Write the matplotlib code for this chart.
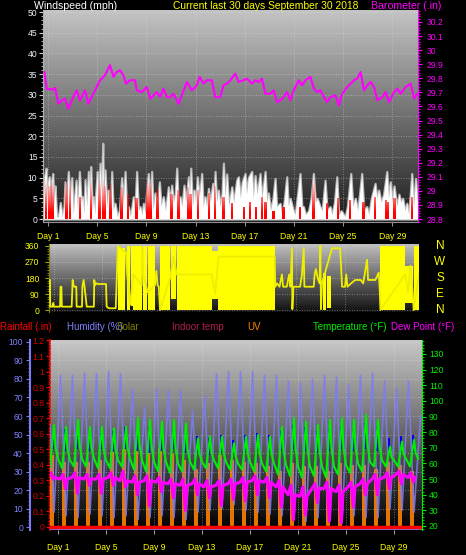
import numpy as np
import matplotlib
matplotlib.use("Agg")
from matplotlib import pyplot as plt
from matplotlib.colors import LinearSegmentedColormap
from matplotlib.path import Path
from matplotlib.ticker import FuncFormatter, MultipleLocator

plt.rcParams["font.family"] = ["Liberation Sans", "DejaVu Sans"]

# ---------------- values ----------------
day_ticks = [1, 5, 9, 13, 17, 21, 25, 29]
day_labels = [f"Day {d}" for d in day_ticks]

# wind gust (white area), mph
wind_day = [0.60, 0.70, 0.84, 0.95, 1.00, 1.11, 1.22, 1.30, 1.38, 1.50,
            1.57, 1.70, 1.84, 2.00, 2.15, 2.30, 2.38, 2.50, 2.65, 2.80,
            2.93, 3.05, 3.15, 3.28, 3.40, 3.55, 3.70, 3.82, 3.92, 4.01,
            4.15, 4.28, 4.38, 4.47, 4.60, 4.69, 4.80, 4.90, 5.01, 5.12,
            5.23, 5.35, 5.45, 5.52, 5.64, 5.78, 5.91, 6.05, 6.18, 6.30,
            6.45, 6.64, 6.80, 6.99, 7.12, 7.27, 7.40, 7.54, 7.70, 7.94,
            8.05, 8.21, 8.35, 8.49, 8.65, 8.76, 8.90, 9.00, 9.16, 9.30,
            9.43, 9.55, 9.71, 9.85, 10.06, 10.20, 10.38, 10.55, 10.79, 10.90,
            11.06, 11.20, 11.35, 11.47, 11.60, 11.74, 11.90, 12.06, 12.20, 12.42,
            12.52, 12.61, 12.75, 12.88, 13.00, 13.15, 13.30, 13.50, 13.62, 13.77,
            13.90, 14.05, 14.20, 14.40, 14.50, 14.59, 14.72, 14.86, 15.00, 15.15,
            15.27, 15.40, 15.54, 15.70, 15.95, 16.10, 16.35, 16.49, 16.65, 16.80,
            17.03, 17.15, 17.30, 17.57, 17.70, 17.85, 18.00, 18.25, 18.40, 18.66,
            18.80, 18.93, 19.10, 19.30, 19.47, 19.60, 19.88, 20.00, 20.20, 20.42,
            20.55, 20.70, 20.96, 21.10, 21.30, 21.50, 21.65, 21.78, 21.95, 22.20,
            22.40, 22.59, 22.75, 22.90, 23.13, 23.30, 23.54, 23.70, 23.95, 24.10,
            24.30, 24.49, 24.65, 24.85, 25.17, 25.35, 25.63, 25.80, 26.00, 26.20,
            26.52, 26.70, 26.93, 27.10, 27.30, 27.61, 27.75, 27.90, 28.10, 28.30,
            28.56, 28.70, 28.85, 29.00, 29.15, 29.37, 29.55, 29.70, 29.85, 30.05,
            30.19, 30.35, 30.59, 30.75, 30.90, 31.05, 31.10]
wind_gust = [2, 10, 12.3, 3, 9, 10.2, 2, 9, 11, 3,
             8, 0.5, 0.5, 4, 0.5, 3, 9, 4, 11.5, 5,
             10, 1, 5, 9.4, 2, 11.5, 4, 5.4, 1, 9.5,
             3, 11.5, 6, 12.7, 2, 5.4, 1, 7, 11.5, 3,
             13.5, 6, 18.3, 4, 11.9, 3, 7, 1, 11.5, 2,
             3.8, 0.5, 2, 10, 3, 11.5, 2, 3, 0.5, 5.4,
             1, 11.5, 2, 3, 1, 3.8, 1, 6, 11, 3,
             11.5, 2, 6.3, 2, 9, 3, 5.4, 2, 7.8, 3,
             8.2, 4, 6, 12.3, 3, 5.4, 3, 8.2, 4, 10.2,
             5, 12.3, 3, 7, 4, 10.2, 5, 11, 3, 5.4,
             3, 7.4, 4, 8.6, 4, 11.5, 4, 7, 3, 6,
             13.5, 5, 10.9, 3, 7.8, 4, 9.4, 10.2, 5, 9,
             11, 6, 10, 11.5, 5, 10.5, 6, 11, 5, 11.5,
             4, 6.3, 2, 5, 9.8, 3, 3.8, 1, 4, 10.2,
             3, 5, 2, 1, 6, 11, 3, 3, 1, 2,
             5, 11, 4, 5, 3, 2, 9.4, 2, 3, 1,
             4, 10.2, 1, 2, 0.5, 3, 11, 3, 5, 2,
             11, 2, 3, 1, 5, 8.6, 5, 7, 4, 6,
             11.5, 5, 9, 4, 8, 3, 6, 4, 5, 2,
             3.8, 1, 11, 3, 9.8, 4, 2]

# average wind (red), mph
avg_day = [0.84, 1.11, 1.38, 2.50, 2.80, 3.60, 4.50, 5.20, 5.45, 5.60,
           6.10, 6.99, 7.50, 8.20, 9.10, 9.35, 9.90, 11.06, 11.60, 12.40,
           12.60, 13.20, 14.10, 14.60, 15.27, 15.95, 16.95, 17.45, 17.90, 18.40,
           18.70, 19.33, 20.15, 21.50, 22.60, 23.68, 24.60, 25.57, 26.66, 27.60,
           28.50, 28.65, 29.20, 30.60]
avg_mph = [10, 8, 9, 11, 9, 5.4, 9.4, 10, 13, 8,
           8.5, 7.7, 6, 5, 11.5, 9, 7.3, 6, 7, 7.8,
           6, 7, 6.3, 8, 5.4, 3.8, 3, 4, 3, 5.4,
           4, 2, 3, 3, 10, 3.8, 5, 4.6, 4, 5.4,
           4.6, 4, 5, 5.4]

# barometer, inHg
baro_day = [0.70, 0.89, 1.44, 1.57, 1.84, 2.11, 2.38, 2.65, 2.93, 3.33,
            3.60, 4.01, 4.28, 4.68, 4.96, 5.23, 5.63, 6.04, 6.32, 6.59,
            6.86, 7.13, 7.35, 7.67, 8.08, 8.22, 8.63, 9.03, 9.31, 9.85,
            10.12, 10.39, 10.66, 10.94, 11.21, 11.62, 11.89, 12.29, 12.70, 13.11,
            13.33, 13.65, 13.92, 14.33, 14.60, 15.01, 15.28, 15.56, 15.83, 16.23,
            16.50, 16.91, 17.18, 17.59, 17.86, 18.14, 18.41, 18.68, 19.09, 19.36,
            19.63, 19.91, 20.18, 20.45, 20.72, 20.99, 21.40, 21.67, 21.94, 22.35,
            22.63, 22.90, 23.17, 23.44, 23.71, 23.98, 24.39, 24.66, 24.94, 25.34,
            25.62, 25.89, 26.16, 26.43, 26.70, 26.98, 27.25, 27.52, 27.79, 28.20,
            28.47, 28.74, 29.15, 29.42, 29.69, 30.10, 30.51, 30.78, 31.05]
baro_in = [29.845, 29.726, 29.719, 29.733, 29.619, 29.643, 29.655, 29.583, 29.643, 29.714,
           29.643, 29.714, 29.619, 29.690, 29.738, 29.786, 29.821, 29.893, 29.810, 29.845,
           29.857, 29.821, 29.762, 29.786, 29.786, 29.714, 29.702, 29.738, 29.655, 29.702,
           29.667, 29.726, 29.667, 29.667, 29.690, 29.619, 29.679, 29.774, 29.714, 29.750,
           29.810, 29.762, 29.786, 29.786, 29.667, 29.667, 29.750, 29.762, 29.786, 29.833,
           29.774, 29.786, 29.798, 29.762, 29.786, 29.774, 29.798, 29.690, 29.690, 29.714,
           29.631, 29.643, 29.667, 29.702, 29.643, 29.714, 29.786, 29.750, 29.786, 29.810,
           29.726, 29.702, 29.714, 29.667, 29.631, 29.667, 29.679, 29.607, 29.690, 29.738,
           29.762, 29.786, 29.798, 29.845, 29.714, 29.750, 29.774, 29.738, 29.643, 29.667,
           29.702, 29.631, 29.702, 29.726, 29.690, 29.738, 29.762, 29.655, 29.690]

# wind direction, degrees (line) and spans where it swings across the dial
dir_day = [0.60, 0.68, 0.70, 0.87, 0.95, 1.00, 1.51, 1.55, 1.62, 1.66,
           2.47, 2.55, 2.62, 2.69, 2.85, 2.88, 3.32, 3.35, 3.45, 3.55,
           3.71, 4.30, 4.33, 4.40, 4.50, 4.67, 5.30, 5.35, 5.55, 6.10,
           6.18, 6.28, 6.87, 6.95, 7.05, 7.28, 7.55, 8.24, 8.30, 8.37,
           8.74, 9.34, 9.45, 9.55, 9.65, 9.75, 10.58, 10.85, 11.13, 14.01,
           14.30, 14.56, 19.20, 19.26, 19.40, 19.60, 19.80, 19.90, 20.20, 20.40,
           20.50, 20.63, 20.66, 20.75, 21.30, 21.45, 21.60, 21.65, 22.20, 22.42,
           22.50, 22.60, 22.75, 22.90, 22.97, 23.02, 23.10, 23.93, 24.60, 24.76,
           25.00, 25.10, 25.20, 25.50, 25.85, 26.30, 26.50, 26.82, 26.90, 27.50,
           27.78, 27.85, 27.92, 29.95, 30.20, 30.40, 30.60, 30.66, 31.10]
dir_deg = [169, 169, 19, 19, 40, 19, 19, 131, 131, 19,
           19, 169, 140, 131, 131, 19, 19, 131, 169, 120,
           19, 19, 169, 140, 150, 146, 146, 19, 10, 10,
           169, 360, 325, 325, 200, 30, 200, 140, 340, 200,
           100, 140, 220, 140, 131, 0, 180, 300, 200, 200,
           90, 300, 300, 131, 150, 131, 200, 131, 131, 200,
           131, 347, 5, 131, 131, 200, 347, 131, 131, 131,
           200, 230, 180, 150, 360, 5, 150, 347, 347, 131,
           131, 200, 131, 150, 169, 169, 150, 283, 169, 169,
           210, 131, 0, 200, 100, 250, 80, 0, 200]
swing_start = [6.28, 7.05, 7.32, 7.55, 8.37, 8.78, 9.75, 10.62, 11.13, 14.05,
               14.56, 15.95, 16.95, 23.20, 23.55, 27.92, 29.95, 30.66]
swing_end = [6.87, 7.25, 7.55, 8.24, 8.70, 9.34, 10.58, 11.10, 14.01, 14.52,
             15.90, 16.90, 19.22, 23.45, 23.85, 29.95, 30.60, 31.10]
swing_low = [0, 0, 20, 0, 0, 0, 0, 60, 0, 60, 0, 0, 0, 0, 10, 0, 40, 0]
swing_high = [350, 360, 360, 360, 360, 360, 360, 360, 360, 330,
              360, 360, 360, 210, 190, 360, 250, 360]

# one value per day (day 0 .. 30)
temp_min = [58, 57, 58, 58, 57, 57, 58, 56, 55, 55, 54, 55, 56, 57, 57, 56,
            56, 55, 55, 53, 52, 51, 52, 51, 53, 54, 55, 58, 58, 58, 58]
temp_max = [84.6, 83.5, 87.8, 83.5, 83.5, 82.5, 83.5, 88.9, 87.8, 86.7, 87.8,
            85.6, 76.1, 77.2, 77.2, 72.9, 77.1, 78.2, 77.1, 83.5, 88.9, 86.7,
            84.6, 87.8, 88.9, 87.8, 91.0, 87.8, 70.7, 73.9, 75.0]
temp_drop = [70, 69, 72, 70, 69, 69, 70, 72, 71, 70, 70, 69, 66, 67, 67, 65,
             67, 67, 66, 68, 70, 69, 68, 70, 70, 70, 72, 71, 64, 66, 67]
temp_eve = [63, 62, 63, 63, 62, 62, 63, 62, 61, 61, 60, 61, 61, 62, 61, 60,
            61, 60, 60, 59, 58, 58, 58, 58, 59, 60, 61, 62, 62, 63, 63]
dew_base = [51, 50, 51, 50, 50, 51, 49, 48, 49, 48, 47, 46, 47, 45, 46, 47,
            48, 49, 48, 45, 40, 39, 44, 44, 42, 45, 47, 50, 51, 53, 51]
dew_spike = [54, 53, 54, 53, 53, 54, 55, 52, 52, 51, 50, 50, 50, 49, 49, 50,
             51, 52, 51, 49, 46, 45, 47, 48, 46, 48, 50, 53, 54, 55, 54]
dew_dip = [50, 44, 41, 46, 41, 46, 45, 40, 33, 42, 38, 30, 40, 38, 33, 37,
           36, 40, 38, 32, 24, 27, 35, 23, 22, 32, 40, 40, 44, 47, 48]
hum_max = [82, 82, 83, 83, 84, 83, 75, 65, 75, 74, 74, 63, 71, 83, 84, 84,
           84, 82, 82, 79, 78, 80, 82, 81, 77, 82, 83, 79, 75, 79, 60]
hum_min = [8, 6, 5, 7, 6, 5, 6, 4, 5, 6, 5, 4, 8, 9, 10, 12,
           9, 8, 7, 6, 4, 3, 5, 4, 3, 6, 5, 5, 10, 9, 8]
hum_start = 55
uv_index = [4.6, 4.2, 4.2, 4.2, 4.3, 4.8, 5.0, 5.2, 5.3, 5.1, 4.7, 4.3, 3.7,
            4.1, 4.6, 4.3, 4.2, 4.1, 3.9, 3.6, 4.1, 3.9, 3.9, 3.6, 4.1, 4.0,
            4.0, 3.7, 4.2, 4.0, 3.6]
solar_hi = [50, 53, 52, 50, 51, 52, 54, 53, 54, 52, 53, 51, 49, 48, 50, 47,
            50, 51, 50, 52, 55, 54, 52, 53, 54, 53, 56, 54, 48, 49, 50]
solar_lo = [42, 41, 42, 41, 42, 41, 42, 41, 40, 41, 42, 40, 40, 39, 40, 39,
            40, 41, 40, 41, 42, 41, 40, 41, 42, 41, 42, 41, 39, 40, 40]
rain_day = [0.33, 31.33]
rain_in = [0.0, 0.0]

# time of day (hours) of the daily readings above
H_TMIN, H_TMAX, H_TDROP, H_TEVE = 8.0, 16.0, 19.0, 24.0
H_DEW_BASE, H_DEW_SPIKE, H_DEW_DIP, H_DEW_EVE = 4.0, 10.0, 14.5, 18.0
H_HUM_MIN, H_HUM_MAX = 16.0, 29.0
H_UV, H_SOLAR = 12.5, 14.5

# ---------------- drawing ----------------
W, H = 466, 555
fig = plt.figure(figsize=(W / 100, H / 100), dpi=100, facecolor="black")

YELLOW = "#ffff00"
LAVENDER = "#7c7cf4"
GREEN = "#00ee00"
MAGENTA = "#ff00ff"
RED = "#ff0000"
ORANGE = "#ff8000"
TICK = 6.2


def add_axes_px(left, top, right, bottom):
    return fig.add_axes([left / W, 1 - bottom / H, (right - left) / W, (bottom - top) / H])


def shade(ax, top, bottom):
    cmap = LinearSegmentedColormap.from_list("shade", [bottom, top])
    ax.imshow(np.linspace(0, 1, 256).reshape(-1, 1), cmap=cmap, origin="lower",
              extent=[0, 1, 0, 1], transform=ax.transAxes, aspect="auto", zorder=0)


def fig_text(x, y, s, color, size=8.5, **kw):
    fig.text(x / W, 1 - y / H, s, color=color, fontsize=size, va="top", **kw)


def plain(v, pos=None):
    return f"{round(v, 2):g}"


def hide_spines(ax, keep=()):
    for name, sp in ax.spines.items():
        sp.set_visible(name in keep)


def dotted_grid(ax, axis):
    ax.set_axisbelow(True)
    ax.grid(True, axis=axis, color="#e0e0e0", linestyle=(0, (1, 2)), linewidth=0.6, alpha=0.55)


days = np.arange(len(temp_max))

# ---- top panel: wind speed + barometer ----
ax_w = add_axes_px(43, 10, 418, 222)
shade(ax_w, "#c4c4c4", "#1c1c1c")
ax_w.fill_between(wind_day, wind_gust, color="#c8c8c8", linewidth=1.6, edgecolor="#b8b8b8", zorder=2)
ax_w.fill_between(wind_day, wind_gust, color="white", linewidth=0, zorder=2.5)
bars = ax_w.bar(avg_day, avg_mph, width=0.2, color="none", linewidth=0)
clip = Path.make_compound_path(*[b.get_path().transformed(b.get_patch_transform()) for b in bars])
fade = np.zeros((256, 1, 4))
fade[..., 0] = 1.0
fade[..., 3] = np.clip(1.2 - 1.5 * np.linspace(0, 1, 256), 0, 1)[:, None]
im = ax_w.imshow(fade, origin="lower", extent=[0.5, 31.2, 0, 12], aspect="auto", zorder=3)
im.set_clip_path(clip, ax_w.transData)
ax_w.set_xlim(0.59, 31.1)
ax_w.set_ylim(-0.72, 50.5)
ax_w.yaxis.set_major_locator(MultipleLocator(5))
ax_w.yaxis.set_minor_locator(MultipleLocator(1))
ax_w.tick_params(axis="y", which="both", color="#d0d0d0", labelcolor="#f0f0ff",
                 labelsize=TICK, length=3, pad=1)
ax_w.tick_params(axis="y", which="minor", length=1.5)
ax_w.set_xticks(day_ticks, day_labels)
ax_w.tick_params(axis="x", color="#909090", labelcolor=YELLOW, labelsize=TICK, length=3, pad=4)
dotted_grid(ax_w, "both")
hide_spines(ax_w, keep=("left", "bottom"))
ax_w.spines["left"].set_color("#b0b0b0")
ax_w.spines["bottom"].set_color("#909090")

ax_p = ax_w.twinx()
ax_p.plot(baro_day, baro_in, color=MAGENTA, linewidth=1.5)
ax_p.set_ylim(28.779, 30.285)
ax_p.yaxis.set_major_locator(MultipleLocator(0.1))
ax_p.yaxis.set_minor_locator(MultipleLocator(0.02))
ax_p.yaxis.set_major_formatter(FuncFormatter(plain))
ax_p.tick_params(axis="y", which="both", color=MAGENTA, labelcolor=MAGENTA,
                 labelsize=TICK, length=3, pad=3)
ax_p.tick_params(axis="y", which="minor", length=1.5)
hide_spines(ax_p, keep=("right",))
ax_p.spines["right"].set_color(MAGENTA)

# ---- middle panel: wind direction ----
ax_d = add_axes_px(49, 244, 419, 312)
shade(ax_d, "#c0c0c0", "#101010")
for s, e, lo, hi in zip(swing_start, swing_end, swing_low, swing_high):
    ax_d.fill_between([s, e], [lo, lo], [hi, hi], color=YELLOW, linewidth=0, zorder=3)
ax_d.plot(dir_day, dir_deg, color="#eeee00", linewidth=1.3, zorder=4)
ax_d.set_xlim(0.6, 31.1)
ax_d.set_ylim(-11, 371)
ax_d.set_yticks([0, 90, 180, 270, 360])
ax_d.yaxis.set_minor_locator(MultipleLocator(15))
ax_d.tick_params(axis="y", which="both", color="#a0a000", labelcolor=YELLOW,
                 labelsize=TICK, length=3, pad=4)
ax_d.tick_params(axis="y", which="minor", length=1.5)
ax_d.set_xticks(day_ticks, [])
ax_d.tick_params(axis="x", length=0)
dotted_grid(ax_d, "both")
hide_spines(ax_d, keep=("left",))
ax_d.spines["left"].set_color("#808000")

for letter, y in zip(["N", "W", "S", "E", "N"], [246, 262, 278, 294, 310]):
    fig.text(440 / W, 1 - y / H, letter, color=YELLOW, fontsize=8.5, ha="center", va="center")

# ---- bottom panel: rain, humidity, UV, temperature, dew point ----
ax_r = add_axes_px(50, 340, 422, 530)
shade(ax_r, "#c8c8c8", "#000000")
ax_u = ax_r.twinx()
ax_h = ax_r.twinx()
ax_t = ax_r.twinx()

ax_r.set_xlim(0.33, 31.33)
ax_r.set_ylim(-0.0193, 1.203)
ax_r.yaxis.set_major_locator(MultipleLocator(0.1))
ax_r.yaxis.set_minor_locator(MultipleLocator(0.02))
ax_r.yaxis.set_major_formatter(FuncFormatter(plain))
ax_r.tick_params(axis="y", which="both", color=RED, labelcolor="#d00000",
                 labelsize=TICK, length=3, pad=1)
ax_r.tick_params(axis="y", which="minor", length=1.5)
ax_r.set_xticks(day_ticks, day_labels)
ax_r.tick_params(axis="x", color="#a0a0a0", labelcolor=YELLOW, labelsize=TICK, length=3, pad=6)
dotted_grid(ax_r, "x")
hide_spines(ax_r, keep=("left",))
ax_r.spines["left"].set_color(RED)
ax_r.spines["left"].set_linestyle((0, (2, 1.5)))
ax_r.spines["left"].set_linewidth(1.2)

# UV
ax_u.bar(days + H_UV / 24, uv_index, width=0.34, color=ORANGE, alpha=0.9, linewidth=0)
ax_u.set_ylim(-0.193, 12.03)
ax_u.set_yticks([])
hide_spines(ax_u)

# humidity (and the blue solar marks in the same units)
hum_t = [0.33]
hum_v = [hum_start]
for k in days:
    hum_t += [k + H_HUM_MIN / 24, k + H_HUM_MAX / 24]
    hum_v += [hum_min[k], hum_max[k]]
ax_h.plot(hum_t, hum_v, color=LAVENDER, linewidth=1.2, alpha=0.85)
ax_h.vlines(days + H_SOLAR / 24, solar_lo, solar_hi, color="#0000ff", linewidth=1.4)
ax_h.axhline(-1.0, color=LAVENDER, linewidth=2)
ax_h.set_ylim(-1.62, 101.08)
ax_h.yaxis.tick_left()
ax_h.yaxis.set_major_locator(MultipleLocator(10))
ax_h.yaxis.set_minor_locator(MultipleLocator(2))
ax_h.tick_params(axis="y", which="both", color=LAVENDER, labelcolor="#8080ff",
                 labelsize=TICK, length=3, pad=2)
ax_h.tick_params(axis="y", which="minor", length=1.5)
dotted_grid(ax_h, "y")
hide_spines(ax_h, keep=("left",))
ax_h.spines["left"].set_position(("outward", 14.4))
ax_h.spines["left"].set_color(LAVENDER)
ax_h.spines["left"].set_linewidth(1.5)

# temperature and dew point
temp_t, temp_v = [], []
dew_t, dew_v = [], []
for k in days:
    temp_t += [k + H_TMIN / 24, k + H_TMAX / 24, k + H_TDROP / 24, k + H_TEVE / 24]
    temp_v += [temp_min[k], temp_max[k], temp_drop[k], temp_eve[k]]
    dew_t += [k + H_DEW_BASE / 24, k + H_DEW_SPIKE / 24, k + H_DEW_DIP / 24, k + H_DEW_EVE / 24]
    dew_v += [dew_base[k], dew_spike[k], dew_dip[k], dew_base[k]]
ax_t.plot(temp_t, temp_v, color=GREEN, linewidth=1.5)
ax_t.plot(dew_t, dew_v, color=MAGENTA, linewidth=2.2)
ax_t.plot(rain_day, rain_in, color=RED, linewidth=2.5, transform=ax_r.transData)
ax_t.set_ylim(17.44, 138.95)
ax_t.yaxis.set_major_locator(MultipleLocator(10))
ax_t.yaxis.set_minor_locator(MultipleLocator(2))
ax_t.tick_params(axis="y", which="both", color=GREEN, labelcolor=GREEN,
                 labelsize=TICK, length=3, pad=2)
ax_t.tick_params(axis="y", which="minor", length=1.5)
hide_spines(ax_t, keep=("right",))
ax_t.spines["right"].set_color(GREEN)

# ---- header texts and legend row ----
fig_text(34, 1, "Windspeed (mph)", "white", size=7.6)
fig_text(173, 1, "Current last 30 days September 30 2018", YELLOW, size=7.4)
fig_text(371, 1, "Barometer (.in)", MAGENTA, size=7.6)

legend_row = [(0, "Rainfall (.in)", RED), (67, "Humidity (%)", "#8080ff"),
              (117, "Solar", "#808000"), (172, "Indoor temp", "#b0204a"),
              (247, "UV", ORANGE), (313, "Temperature (°F)", GREEN),
              (391, "Dew Point (°F)", MAGENTA)]
for x, label, color in legend_row:
    fig_text(x, 322, label, color, size=7.0)

fig.savefig("out.png", dpi=100, facecolor="black")
